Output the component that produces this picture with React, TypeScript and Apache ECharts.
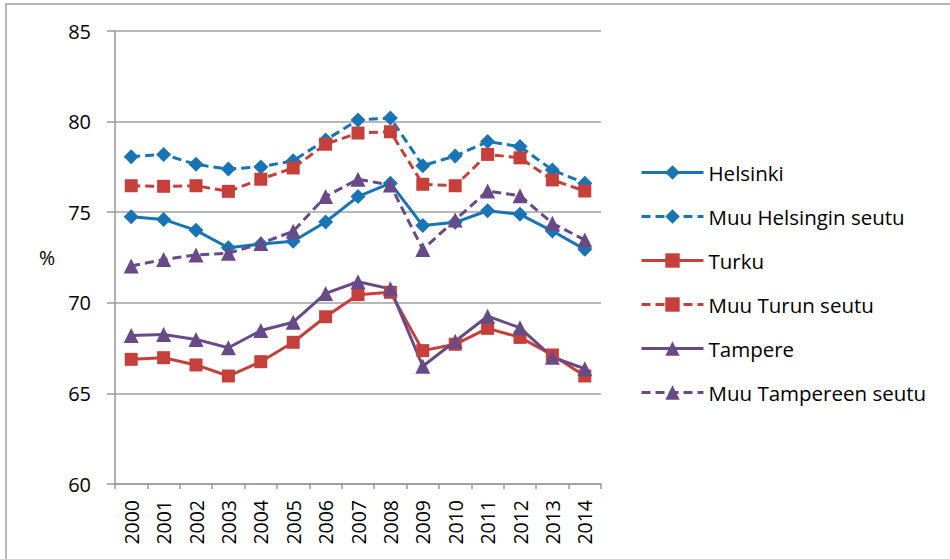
import React, { useEffect, useRef } from "react";
import * as echarts from "echarts";

const years = ["2000","2001","2002","2003","2004","2005","2006","2007","2008","2009","2010","2011","2012","2013","2014"];
const helsinki = [74.75, 74.6, 74.0, 73.04, 73.24, 73.4, 74.46, 75.86, 76.6, 74.26, 74.44, 75.08, 74.88, 73.96, 72.95];
const muuHelsinki = [78.06, 78.19, 77.64, 77.38, 77.5, 77.84, 78.98, 80.09, 80.2, 77.57, 78.1, 78.9, 78.62, 77.33, 76.6];
const turku = [66.88, 66.97, 66.57, 65.96, 66.75, 67.82, 69.23, 70.45, 70.58, 67.36, 67.71, 68.59, 68.09, 67.12, 65.96];
const muuTurku = [76.46, 76.43, 76.46, 76.15, 76.82, 77.44, 78.75, 79.37, 79.44, 76.54, 76.46, 78.19, 78.0, 76.78, 76.17];
const tampere = [68.2, 68.25, 67.98, 67.52, 68.47, 68.93, 70.52, 71.16, 70.77, 66.5, 67.88, 69.26, 68.62, 67.0, 66.36];
const muuTampere = [72.03, 72.39, 72.64, 72.73, 73.27, 73.95, 75.86, 76.82, 76.5, 72.94, 74.57, 76.17, 75.91, 74.39, 73.47];
const yTicks = { min: 60, max: 85, interval: 5 };

const BLUE = "#1874b4";
const RED = "#c5403b";
const PURPLE = "#684a86";
const FONT = "Open Sans";

export default function App() {
  const ref = useRef<HTMLDivElement>(null);
  useEffect(() => {
    if (!ref.current) return;
    const chart = echarts.init(ref.current, null, { renderer: "svg" });
    const mk = (name: string, data: number[], color: string, symbol: string, size: number, dashed: boolean) => ({
      name,
      type: "line",
      data,
      symbol,
      symbolSize: size,
      showAllSymbol: true,
      itemStyle: { color },
      lineStyle: { color, width: 3, type: dashed ? [9, 5] : "solid" },
    });
    chart.setOption({
      animation: false,
      backgroundColor: "#fff",
      graphic: [
        {
          type: "rect",
          shape: { x: 6, y: 4, width: 1000, height: 700 },
          style: { fill: "none", stroke: "#a0a0a0", lineWidth: 1.5 },
          silent: true,
        },
      ],
      grid: { left: 115, right: 349, top: 31, bottom: 75, containLabel: false },
      legend: {
        orient: "vertical",
        left: 640,
        top: 162,
        padding: 0,
        itemWidth: 62,
        itemHeight: 18,
        itemGap: 23,
        lineStyle: { width: 3 },
        textStyle: { fontFamily: FONT, fontSize: 20.5, color: "#000", lineHeight: 20 },
        data: ["Helsinki", "Muu Helsingin seutu", "Turku", "Muu Turun seutu", "Tampere", "Muu Tampereen seutu"],
      },
      xAxis: {
        type: "category",
        data: years,
        boundaryGap: true,
        axisLine: { lineStyle: { color: "#999", width: 1.5 } },
        axisTick: { show: true, length: 5, lineStyle: { color: "#999", width: 1.5 } },
        axisLabel: { rotate: 90, fontFamily: FONT, fontSize: 19.5, color: "#000", margin: 16, interval: 0 },
        splitLine: { show: false },
      },
      yAxis: {
        type: "value",
        min: yTicks.min,
        max: yTicks.max,
        interval: yTicks.interval,
        name: "%",
        nameLocation: "middle",
        nameRotate: 0,
        nameGap: 60,
        nameTextStyle: { fontFamily: FONT, fontSize: 19.5, color: "#000" },
        axisLine: { show: true, lineStyle: { color: "#999", width: 1.5 } },
        axisTick: { show: true, inside: false, length: 8, lineStyle: { color: "#999", width: 1.5 } },
        axisLabel: { fontFamily: FONT, fontSize: 20, color: "#000", margin: 24 },
        splitLine: { show: true, lineStyle: { color: "#a0a0a0", width: 1.5 } },
      },
      series: [
        mk("Helsinki", helsinki, BLUE, "diamond", 15, false),
        mk("Muu Helsingin seutu", muuHelsinki, BLUE, "diamond", 15, true),
        mk("Turku", turku, RED, "rect", 13, false),
        mk("Muu Turun seutu", muuTurku, RED, "rect", 13, true),
        mk("Tampere", tampere, PURPLE, "triangle", 15, false),
        mk("Muu Tampereen seutu", muuTampere, PURPLE, "triangle", 15, true),
      ],
    });
    return () => chart.dispose();
  }, []);
  return <div ref={ref} style={{ position: "fixed", left: 0, top: 0, width: 950, height: 559 }} />;
}
